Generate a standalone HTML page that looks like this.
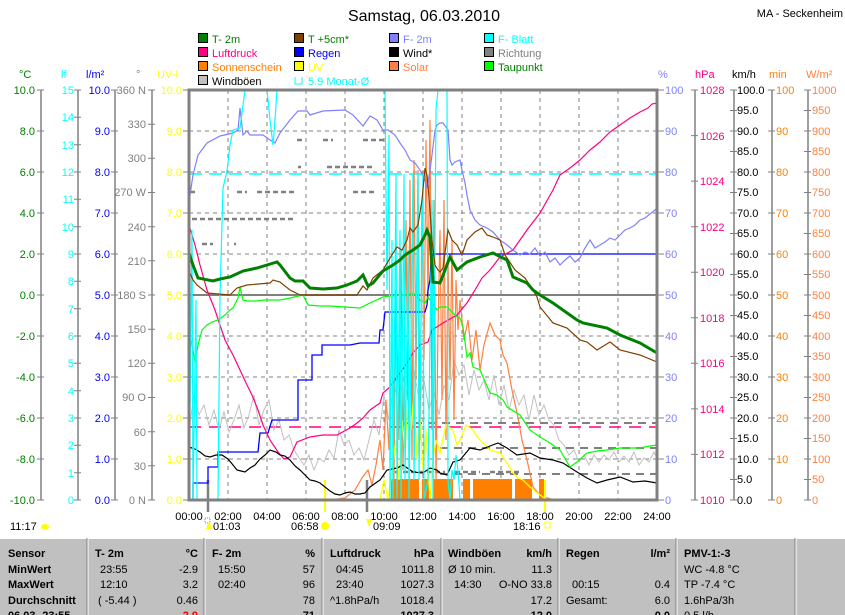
<!DOCTYPE html>
<html><head><meta charset="utf-8"><style>
html,body{margin:0;padding:0;background:#fff;width:845px;height:615px;overflow:hidden}
svg{display:block;font-family:"Liberation Sans",sans-serif}
text{font-size:11px}
.tb{position:absolute;left:0;top:538px;width:845px;height:77px;background:#c0c0c0;font-family:"Liberation Sans",sans-serif;font-size:12px}
</style></head><body>
<svg width="845" height="615" viewBox="0 0 845 615" style="position:absolute;left:0;top:0">
<text x="424" y="21" text-anchor="middle" style="font-size:16px">Samstag, 06.03.2010</text>
<text x="843" y="17" text-anchor="end" style="font-size:11px">MA - Seckenheim</text>
<g stroke="#000" stroke-width="1">
<rect x="198.5" y="33.5" width="9" height="9" fill="#008000"/><rect x="294.5" y="33.5" width="9" height="9" fill="#804000"/><rect x="389.5" y="33.5" width="9" height="9" fill="#8080ff"/><rect x="484.5" y="33.5" width="9" height="9" fill="#00ffff"/>
<rect x="198.5" y="47.5" width="9" height="9" fill="#ff0080"/><rect x="294.5" y="47.5" width="9" height="9" fill="#0000ff"/><rect x="389.5" y="47.5" width="9" height="9" fill="#000"/><rect x="484.5" y="47.5" width="9" height="9" fill="#808080"/>
<rect x="198.5" y="61.5" width="9" height="9" fill="#ff8000"/><rect x="294.5" y="61.5" width="9" height="9" fill="#ffff00"/><rect x="389.5" y="61.5" width="9" height="9" fill="#ff8040"/><rect x="484.5" y="61.5" width="9" height="9" fill="#00ff00"/>
<rect x="198.5" y="75.5" width="9" height="9" fill="#c0c0c0"/>
</g>
<path d="M295 77v7h7v-7" fill="none" stroke="#00ffff"/>
<text x="212" y="43" fill="#008000">T- 2m</text><text x="308" y="43" fill="#008000">T +5cm*</text><text x="403" y="43" fill="#8080ff">F- 2m</text><text x="498" y="43" fill="#00ffff">F- Blatt</text>
<text x="212" y="57" fill="#ff0080">Luftdruck</text><text x="308" y="57" fill="#0000ff">Regen</text><text x="403" y="57">Wind*</text><text x="498" y="57" fill="#808080">Richtung</text>
<text x="212" y="71" fill="#ff8000">Sonnenschein</text><text x="308" y="71" fill="#ffff00">UV</text><text x="403" y="71" fill="#ff8040">Solar</text><text x="498" y="71" fill="#008000">Taupunkt</text>
<text x="212" y="85">Windböen</text><text x="308" y="85" fill="#00ffff">5.9 Monat-Ø</text>
<text x="19" y="78" fill="#008000">°C</text><text x="61" y="78" fill="#00ffff">lf</text><text x="86" y="78" fill="#0000ff">l/m²</text><text x="136" y="78" fill="#808080">°</text><text x="157" y="78" fill="#ffff00">UV-I</text>
<text x="658" y="78" fill="#8080ff">%</text><text x="695" y="78" fill="#ff0080">hPa</text><text x="732" y="78">km/h</text><text x="769" y="78" fill="#ff8000">min</text><text x="806" y="78" fill="#ff8040">W/m²</text>
<g stroke="#808080" stroke-width="1.5">
<line x1="41" y1="90" x2="41" y2="500"/><line x1="78" y1="90" x2="78" y2="500"/><line x1="115" y1="90" x2="115" y2="500"/><line x1="152" y1="90" x2="152" y2="500"/>
<line x1="695" y1="90" x2="695" y2="500"/><line x1="734" y1="90" x2="734" y2="500"/><line x1="772" y1="90" x2="772" y2="500"/><line x1="808" y1="90" x2="808" y2="500"/>
</g>
<g stroke="#808080" stroke-width="1">
<path d="M37 90h7M37 131h7M37 172h7M37 213h7M37 254h7M37 295h7M37 336h7M37 377h7M37 418h7M37 459h7M37 500h7"/>
<path d="M74 90h7M74 117.3h7M74 144.7h7M74 172h7M74 199.3h7M74 226.7h7M74 254h7M74 281.3h7M74 308.7h7M74 336h7M74 363.3h7M74 390.7h7M74 418h7M74 445.3h7M74 472.7h7M74 500h7"/>
<path d="M111 90h7M111 131h7M111 172h7M111 213h7M111 254h7M111 295h7M111 336h7M111 377h7M111 418h7M111 459h7M111 500h7"/>
<path d="M148 90h7M148 124.2h7M148 158.3h7M148 192.5h7M148 226.7h7M148 260.8h7M148 295h7M148 329.2h7M148 363.3h7M148 397.5h7M148 431.7h7M148 465.8h7M148 500h7"/>
<path d="M183 90h5M183 131h5M183 172h5M183 213h5M183 254h5M183 295h5M183 336h5M183 377h5M183 418h5M183 459h5M183 500h5"/>
<path d="M658 90h6M658 131h6M658 172h6M658 213h6M658 254h6M658 295h6M658 336h6M658 377h6M658 418h6M658 459h6M658 500h6"/>
<path d="M691 90h7M691 135.6h7M691 181.1h7M691 226.7h7M691 272.2h7M691 317.8h7M691 363.3h7M691 408.9h7M691 454.4h7M691 500h7"/>
<path d="M730 90h7M730 110.5h7M730 131h7M730 151.5h7M730 172h7M730 192.5h7M730 213h7M730 233.5h7M730 254h7M730 274.5h7M730 295h7M730 315.5h7M730 336h7M730 356.5h7M730 377h7M730 397.5h7M730 418h7M730 438.5h7M730 459h7M730 479.5h7M730 500h7"/>
<path d="M768 90h7M768 131h7M768 172h7M768 213h7M768 254h7M768 295h7M768 336h7M768 377h7M768 418h7M768 459h7M768 500h7"/>
<path d="M804 90h7M804 110.5h7M804 131h7M804 151.5h7M804 172h7M804 192.5h7M804 213h7M804 233.5h7M804 254h7M804 274.5h7M804 295h7M804 315.5h7M804 336h7M804 356.5h7M804 377h7M804 397.5h7M804 418h7M804 438.5h7M804 459h7M804 479.5h7M804 500h7"/>
</g>
<g fill="#008000" text-anchor="end"><text x="35" y="94">10.0</text><text x="35" y="135">8.0</text><text x="35" y="176">6.0</text><text x="35" y="217">4.0</text><text x="35" y="258">2.0</text><text x="35" y="299">0.0</text><text x="35" y="340">-2.0</text><text x="35" y="381">-4.0</text><text x="35" y="422">-6.0</text><text x="35" y="463">-8.0</text><text x="35" y="504">-10.0</text></g>
<g fill="#00ffff" text-anchor="end"><text x="74" y="94">15</text><text x="74" y="121">14</text><text x="74" y="149">13</text><text x="74" y="176">12</text><text x="74" y="203">11</text><text x="74" y="231">10</text><text x="74" y="258">9</text><text x="74" y="285">8</text><text x="74" y="313">7</text><text x="74" y="340">6</text><text x="74" y="367">5</text><text x="74" y="395">4</text><text x="74" y="422">3</text><text x="74" y="449">2</text><text x="74" y="477">1</text><text x="74" y="504">0</text></g>
<g fill="#0000ff" text-anchor="end"><text x="110" y="94">10.0</text><text x="110" y="135">9.0</text><text x="110" y="176">8.0</text><text x="110" y="217">7.0</text><text x="110" y="258">6.0</text><text x="110" y="299">5.0</text><text x="110" y="340">4.0</text><text x="110" y="381">3.0</text><text x="110" y="422">2.0</text><text x="110" y="463">1.0</text><text x="110" y="504">0.0</text></g>
<g fill="#808080" text-anchor="end"><text x="146" y="94">360 N</text><text x="146" y="128">330</text><text x="146" y="162">300</text><text x="146" y="196">270 W</text><text x="146" y="231">240</text><text x="146" y="265">210</text><text x="146" y="299">180 S</text><text x="146" y="333">150</text><text x="146" y="367">120</text><text x="146" y="401">90 O</text><text x="146" y="436">60</text><text x="146" y="470">30</text><text x="146" y="504">0 N</text></g>
<g fill="#ffff00" text-anchor="end"><text x="182" y="94">10.0</text><text x="182" y="135">9.0</text><text x="182" y="176">8.0</text><text x="182" y="217">7.0</text><text x="182" y="258">6.0</text><text x="182" y="299">5.0</text><text x="182" y="340">4.0</text><text x="182" y="381">3.0</text><text x="182" y="422">2.0</text><text x="182" y="463">1.0</text><text x="182" y="504">0.0</text></g>
<g fill="#8080ff"><text x="665" y="94">100</text><text x="665" y="135">90</text><text x="665" y="176">80</text><text x="665" y="217">70</text><text x="665" y="258">60</text><text x="665" y="299">50</text><text x="665" y="340">40</text><text x="665" y="381">30</text><text x="665" y="422">20</text><text x="665" y="463">10</text><text x="665" y="504">0</text></g>
<g fill="#ff0080"><text x="700" y="94">1028</text><text x="700" y="140">1026</text><text x="700" y="185">1024</text><text x="700" y="231">1022</text><text x="700" y="276">1020</text><text x="700" y="322">1018</text><text x="700" y="367">1016</text><text x="700" y="413">1014</text><text x="700" y="458">1012</text><text x="700" y="504">1010</text></g>
<g><text x="737" y="94">100.0</text><text x="737" y="114">95.0</text><text x="737" y="135">90.0</text><text x="737" y="155">85.0</text><text x="737" y="176">80.0</text><text x="737" y="196">75.0</text><text x="737" y="217">70.0</text><text x="737" y="237">65.0</text><text x="737" y="258">60.0</text><text x="737" y="278">55.0</text><text x="737" y="299">50.0</text><text x="737" y="319">45.0</text><text x="737" y="340">40.0</text><text x="737" y="360">35.0</text><text x="737" y="381">30.0</text><text x="737" y="401">25.0</text><text x="737" y="422">20.0</text><text x="737" y="442">15.0</text><text x="737" y="463">10.0</text><text x="737" y="483">5.0</text><text x="737" y="504">0.0</text></g>
<g fill="#ff8000"><text x="776" y="94">100</text><text x="776" y="135">90</text><text x="776" y="176">80</text><text x="776" y="217">70</text><text x="776" y="258">60</text><text x="776" y="299">50</text><text x="776" y="340">40</text><text x="776" y="381">30</text><text x="776" y="422">20</text><text x="776" y="463">10</text><text x="776" y="504">0</text></g>
<g fill="#ff8040"><text x="812" y="94">1000</text><text x="812" y="114">950</text><text x="812" y="135">900</text><text x="812" y="155">850</text><text x="812" y="176">800</text><text x="812" y="196">750</text><text x="812" y="217">700</text><text x="812" y="237">650</text><text x="812" y="258">600</text><text x="812" y="278">550</text><text x="812" y="299">500</text><text x="812" y="319">450</text><text x="812" y="340">400</text><text x="812" y="360">350</text><text x="812" y="381">300</text><text x="812" y="401">250</text><text x="812" y="422">200</text><text x="812" y="442">150</text><text x="812" y="463">100</text><text x="812" y="483">50</text><text x="812" y="504">0</text></g>
<g stroke="#808080" stroke-width="1" stroke-dasharray="4,4">
<path d="M228 90V500M267 90V500M306 90V500M345 90V500M384 90V500M423 90V500M462 90V500M501 90V500M540 90V500M579 90V500M618 90V500"/>
<path d="M189 131H657M189 172H657M189 213H657M189 254H657M189 336H657M189 377H657M189 418H657M189 459H657"/>
</g>
<line x1="189" y1="295" x2="657" y2="295" stroke="#808080" stroke-width="2"/>
<line x1="189" y1="174" x2="657" y2="174" stroke="#00ffff" stroke-width="1.5" stroke-dasharray="13,7"/>
<line x1="189" y1="427" x2="657" y2="427" stroke="#ff0080" stroke-width="1.5" stroke-dasharray="12,8"/>
<path d="M400 423H657M440 448H657M440 474H657" stroke="#808080" stroke-width="2" stroke-dasharray="8,6"/>
<g stroke="#808080" stroke-width="2.5">
<path d="M297 140h5M323 140h10M363 140h24M298 167h3M327 167h48M190 192h7M237 192h10M257 192h40M353 192h24M192 219h101M202 244h11M234 244h2M395 472h50M455 472h25M490 472h30" stroke-dasharray="5,3"/>
</g>
<path d="M391 479h28v21h-28zM422 479h7v21h-7zM433 479h20v21h-20zM463 479h7v21h-7zM473 479h39v21h-39zM515 479h17v21h-17zM539 479h5v21h-5z" fill="#ff8000"/>
<polyline fill="none" stroke="#c0c0c0" stroke-width="1" points="189,430 194,395 199,415 204,405 209,425 214,410 219,430 224,412 229,432 234,420 239,405 244,428 249,415 254,395 259,425 264,410 269,400 274,430 279,420 284,440 289,435 294,450 299,458 304,465 309,455 314,470 319,458 324,462 329,450 334,458 339,430 344,445 349,440 354,455 359,448 364,460 369,440 374,420 379,435 384,395 389,420 394,385 399,400 404,375 409,405 414,370 419,400 424,380 429,410 434,392 439,415 444,385 449,400 454,360 459,375 464,365 469,395 474,370 479,390 484,380 489,400 494,375 499,405 504,385 509,410 514,390 519,405 524,395 529,420 534,395 539,415 544,405 549,420 554,425 559,440 564,445 569,455 574,450 579,462 584,455 589,465 594,455 599,462 604,455 609,460 614,452 619,462 624,456 629,462 634,452 639,465 644,458 649,462 654,452 657,458"/>
<polyline fill="none" stroke="#ff8040" stroke-width="1.2" points="189,500 330,500 345,498 355,490 362,478 368,470 372,485 376,465 380,440 383,470 386,400 389,450 392,330 394,480 396,290 399,440 401,250 403,470 406,220 408,420 410,180 412,460 414,160 416,380 418,170 420,440 422,200 424,360 426,140 428,300 430,120 432,430 434,200 436,480 438,330 440,230 442,400 444,200 446,440 448,260 450,380 452,240 454,420 456,280 458,330 460,300 464,340 468,320 472,360 476,330 480,370 484,345 490,323 495,335 500,340 503,355 507,363 512,390 517,413 522,440 527,460 533,487 540,495 547,498 555,500 657,500"/>
<polyline fill="none" stroke="#ffff00" stroke-width="1.3" points="189,500 380,500 384,480 388,500 392,470 396,440 399,480 402,420 405,450 408,400 411,430 414,395 417,460 420,420 423,470 426,430 430,500 433,460 436,440 440,453 446,425 453,430 457,445 460,440 466,425 473,430 478,438 483,443 490,450 500,453 507,463 513,473 518,478 523,480 530,487 540,495 547,500 657,500"/>
<path d="M325 480V512M545 480V512" stroke="#ffff00" stroke-width="2"/>
<path d="M208 480V512M367 480V512" stroke="#808080" stroke-width="2.5"/>
<polyline fill="none" stroke="#0000ff" stroke-width="1.3" points="189,500 193,500 193,483 208,483 208,467 218,467 218,452 258,452 260,433 268,433 272,420 298,420 298,380 312,380 312,355 322,355 322,345 350,345 360,343 379,343 380,330 383,330 385,312 425,312 427,305 428,290 430,280 431,260 433,254 657,254"/>
<polyline fill="none" stroke="#ff0080" stroke-width="1.2" points="189,225 195,245 200,265 207,290 215,310 225,340 233,355 240,370 247,385 252,395 258,410 263,425 270,440 278,452 284,459 290,457 297,442 310,437 323,435 337,435 350,428 357,423 363,418 370,410 380,403 383,393 390,387 400,373 407,363 413,353 420,345 428,342 432,330 443,323 457,315 467,303 475,290 482,278 490,270 500,257 513,250 527,230 540,213 553,190 560,175 570,168 580,160 590,150 600,142 610,132 620,125 630,118 640,112 648,108 652,104 657,103"/>
<polyline fill="none" stroke="#000" stroke-width="1.2" points="189,447 195,449 200,452 205,456 210,457 216,455 222,455 228,459 233,465 237,470 241,471 245,472 250,468 255,465 260,459 265,455 270,450 276,452 280,455 285,456 290,460 295,466 300,470 305,475 310,480 315,481 320,483 325,487 330,491 335,494 340,495 345,493 350,492 355,494 360,494 365,493 370,487 380,480 387,470 397,468 403,465 413,472 423,473 430,468 437,470 440,473 447,475 453,462 460,460 470,448 480,450 490,446 498,443 507,448 517,455 530,453 540,458 553,460 563,463 577,472 587,478 597,483 607,480 620,477 633,482 645,481 657,483"/>
<polyline fill="none" stroke="#00ff00" stroke-width="1.2" points="189,330 192,345 195,362 198,345 202,330 207,325 212,322 218,320 225,315 230,310 233,308 238,298 240,287 243,300 247,301 257,301 265,300 280,300 290,298 303,295 308,305 320,306 330,306 345,307 360,308 370,303 383,297 397,295 407,295 413,293 420,300 425,303 428,297 437,310 440,307 447,307 453,313 457,317 460,318 463,327 467,357 470,353 473,367 480,370 490,393 497,395 503,400 507,407 520,415 530,430 540,437 550,443 560,450 570,467 577,462 587,453 597,451 607,450 620,448 640,448 650,446 657,445"/>
<polyline fill="none" stroke="#8080ff" stroke-width="1.2" points="189,211 190,195 193,175 198,155 207,143 220,136 233,133 238,130 240,108 243,135 247,131 250,135 263,135 270,140 275,143 280,133 290,120 298,111 307,111 310,115 323,111 345,110 353,115 363,126 370,116 377,120 383,130 388,130 395,135 400,143 405,150 410,160 415,163 420,170 425,180 427,188 430,170 432,155 435,130 437,125 440,123 443,123 448,130 450,160 452,165 455,162 460,160 462,170 465,183 467,195 470,210 475,220 480,225 487,228 493,232 500,240 507,245 513,250 520,255 525,252 530,254 535,248 540,256 545,252 550,262 555,258 560,265 565,260 570,256 575,262 580,258 585,248 590,240 595,248 600,245 605,242 610,238 615,240 620,235 625,230 630,228 635,225 640,220 645,218 650,214 655,210 657,208"/>
<polyline fill="none" stroke="#00ffff" stroke-width="1.2" points="189,500 192,230 193,500 196,300 197,500 218,500 220,295 223,188 227,171 230,145 233,130 240,128 245,90 267,90 270,120 273,145 275,120 277,90 385,90 387,290 389,135 390,500 392,240 393,500 396,174 397,500 400,230 401,500 404,174 405,480 408,250 409,500 413,174 414,480 418,174 419,480 423,174 424,500 428,480 432,200 433,500 436,110 438,90 447,90 448,480 450,500 452,470 454,480 456,455 458,470 460,500"/>
<polyline fill="none" stroke="#804000" stroke-width="1.2" points="189,271 193,280 197,285 207,293 230,295 237,288 247,285 270,283 273,280 280,282 290,290 300,295 357,295 363,286 367,290 373,278 383,270 390,258 397,247 402,250 407,240 410,228 413,232 418,225 422,200 425,168 427,175 430,210 432,240 435,265 438,270 440,272 443,268 448,230 452,240 457,245 462,255 467,240 475,232 482,228 487,235 493,237 500,240 505,255 515,270 525,278 533,290 537,297 540,307 553,323 567,328 580,340 587,342 597,350 610,342 620,350 640,355 657,362"/>
<polyline fill="none" stroke="#008000" stroke-width="3" points="189,253 193,265 198,278 213,281 220,279 230,277 243,271 257,268 267,265 277,262 280,265 290,278 295,281 303,281 310,288 323,289 337,288 347,285 357,281 363,275 368,286 373,283 383,271 393,265 400,260 405,255 413,250 420,245 425,235 427,230 430,237 433,282 440,283 450,257 457,270 467,262 480,257 493,253 507,260 513,277 527,283 533,290 540,295 553,303 577,320 583,323 607,328 620,335 640,343 657,353"/>
<path d="M189 90H657V500H189Z" fill="none" stroke="#808080" stroke-width="3"/>
<g text-anchor="middle"><text x="189" y="520">00:00</text><text x="228" y="520">02:00</text><text x="267" y="520">04:00</text><text x="306" y="520">06:00</text><text x="345" y="520">08:00</text><text x="384" y="520">10:00</text><text x="423" y="520">12:00</text><text x="462" y="520">14:00</text><text x="501" y="520">16:00</text><text x="540" y="520">18:00</text><text x="579" y="520">20:00</text><text x="618" y="520">22:00</text><text x="657" y="520">24:00</text></g>
<text x="10" y="530">11:17</text><ellipse cx="45" cy="527" rx="4" ry="3" fill="#ffff00"/>
<path d="M205 518h5v5h-5z" fill="none" stroke="#8080ff" stroke-dasharray="1,1"/><path d="M209 521l-3 8h6z" fill="#ffff00"/>
<text x="213" y="530">01:03</text>
<text x="291" y="530">06:58</text><circle cx="325" cy="526" r="4" fill="#ffff00"/>
<path d="M366 519l3 8 3-8z" fill="#ffff00"/><text x="373" y="530">09:09</text>
<text x="513" y="530">18:16</text><rect x="545" y="522" width="5" height="6" fill="none" stroke="#ffff00"/>
</svg>
<div class="tb">
<svg width="845" height="77" style="position:absolute;left:0;top:0">
<g stroke="#fff" stroke-width="1"><path d="M0 0.5H845M88 0V77M205 0V77M323 0V77M442 0V77M559 0V77M677 0V77M796 0V77"/></g>
<g stroke="#808080" stroke-width="1"><path d="M87 0V77M204 0V77M322 0V77M441 0V77M558 0V77M676 0V77M795 0V77"/></g>
<g style="font-size:12px">
<g font-weight="bold"><text x="8" y="19">Sensor</text><text x="8" y="35">MinWert</text><text x="8" y="50">MaxWert</text><text x="8" y="66">Durchschnitt</text><text x="8" y="81">06.03.-23:55</text>
<text x="95" y="19">T- 2m</text><text x="198" y="19" text-anchor="end">°C</text>
<text x="212" y="19">F- 2m</text><text x="315" y="19" text-anchor="end">%</text>
<text x="330" y="19">Luftdruck</text><text x="434" y="19" text-anchor="end">hPa</text>
<text x="448" y="19">Windböen</text><text x="552" y="19" text-anchor="end">km/h</text>
<text x="566" y="19">Regen</text><text x="670" y="19" text-anchor="end">l/m²</text>
<text x="684" y="19">PMV-1:-3</text></g>
<text x="100" y="35">23:55</text><text x="198" y="35" text-anchor="end">-2.9</text>
<text x="100" y="50">12:10</text><text x="198" y="50" text-anchor="end">3.2</text>
<text x="98" y="66">( -5.44 )</text><text x="198" y="66" text-anchor="end">0.46</text>
<text x="198" y="81" text-anchor="end" fill="#ff0000" font-weight="bold">-2.9</text>
<text x="218" y="35">15:50</text><text x="315" y="35" text-anchor="end">57</text>
<text x="218" y="50">02:40</text><text x="315" y="50" text-anchor="end">96</text>
<text x="315" y="66" text-anchor="end">78</text><text x="315" y="81" text-anchor="end" font-weight="bold">71</text>
<text x="336" y="35">04:45</text><text x="434" y="35" text-anchor="end">1011.8</text>
<text x="336" y="50">23:40</text><text x="434" y="50" text-anchor="end">1027.3</text>
<text x="330" y="66">^1.8hPa/h</text><text x="434" y="66" text-anchor="end">1018.4</text>
<text x="434" y="81" text-anchor="end" font-weight="bold">1027.3</text>
<text x="448" y="35">Ø 10 min.</text><text x="552" y="35" text-anchor="end">11.3</text>
<text x="454" y="50">14:30</text><text x="552" y="50" text-anchor="end">O-NO 33.8</text>
<text x="552" y="66" text-anchor="end">17.2</text><text x="552" y="81" text-anchor="end" font-weight="bold">12.0</text>
<text x="572" y="50">00:15</text><text x="670" y="50" text-anchor="end">0.4</text>
<text x="566" y="66">Gesamt:</text><text x="670" y="66" text-anchor="end">6.0</text><text x="670" y="81" text-anchor="end" font-weight="bold">0.0</text>
<text x="684" y="35">WC -4.8 °C</text><text x="684" y="50">TP -7.4 °C</text><text x="684" y="66">1.6hPa/3h</text><text x="684" y="81">0.5 l/h</text>
</g>
</svg>
</div>
</body></html>
